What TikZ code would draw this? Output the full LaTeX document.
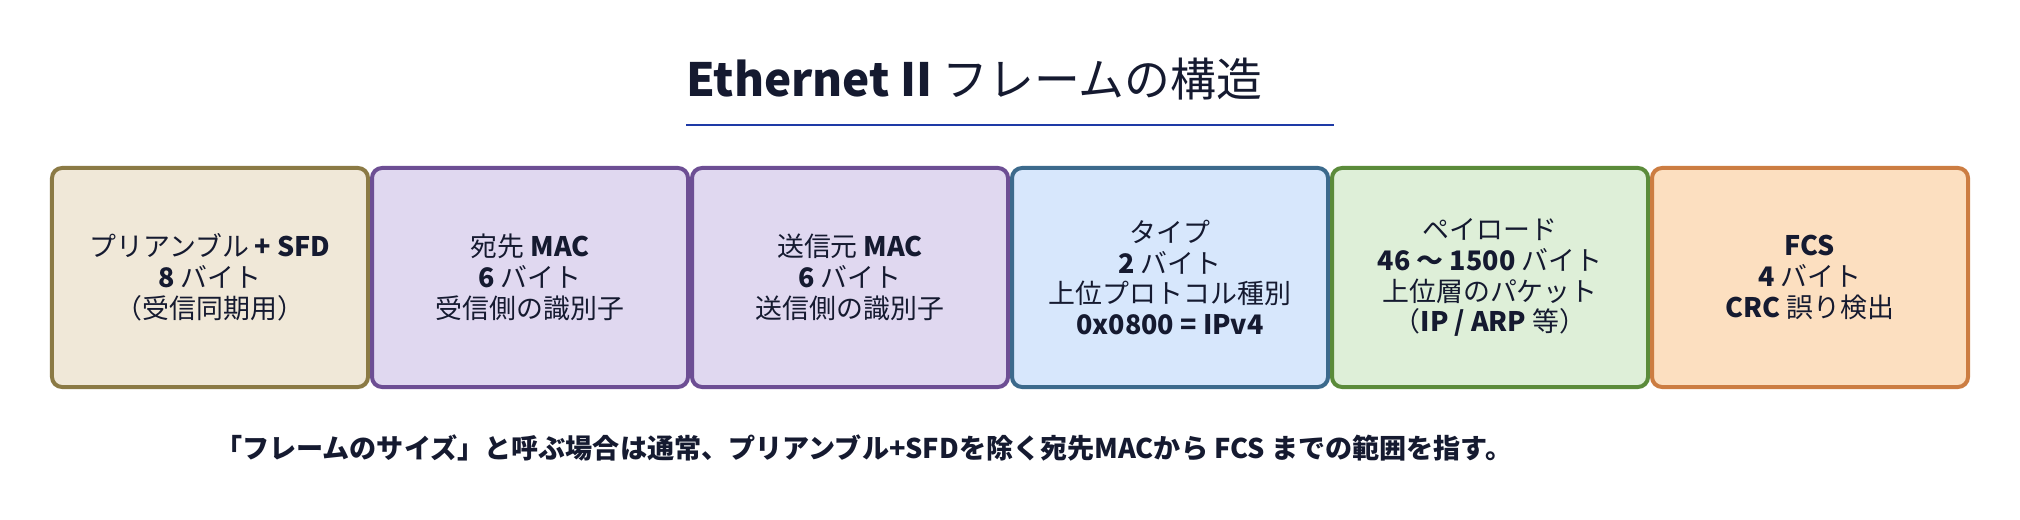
\documentclass[tikz,border=0pt]{standalone}
\usepackage{fontspec}
\setmainfont{Noto Sans CJK JP}
\definecolor{ink}{HTML}{151A30}
\definecolor{uline}{HTML}{1E3AA6}
\definecolor{fA}{HTML}{F0E8D8}\definecolor{sA}{HTML}{8B7A45}
\definecolor{fB}{HTML}{E0D8F0}\definecolor{sB}{HTML}{6D4E94}
\definecolor{fC}{HTML}{D7E7FC}\definecolor{sC}{HTML}{3C6A8C}
\definecolor{fD}{HTML}{DEEFD8}\definecolor{sD}{HTML}{5B8B3A}
\definecolor{fE}{HTML}{FCDFC0}\definecolor{sE}{HTML}{CC7D42}
\newcommand{\bb}[1]{\textbf{#1}}
\tikzset{
  field/.style={draw, line width=4bp, rounded corners=10bp, minimum width=316bp, minimum height=219bp,
    inner sep=0pt, anchor=center, text=ink, align=center, font=\fontsize{27}{31}\selectfont},
}
\begin{document}
\begin{tikzpicture}[x=1bp,y=-1bp]
\useasboundingbox (0,0) rectangle (2020,520);
\node[anchor=base west, text=ink, inner sep=0pt, font=\fontsize{46}{50}\selectfont] (title) at (686,97) {\bb{Ethernet II} フレームの構造};
\coordinate (u1) at (686,125);
\coordinate (u2) at (1334,125);
\draw[uline, line width=2.2bp] (u1) -- (u2);
\node[field, fill=fA, draw=sA] (pre) at (210,277.5) {プリアンブル \bb{+ SFD}\\\bb{8} バイト\\（受信同期用）};
\node[field, fill=fB, draw=sB] (dst) at (530,277.5) {宛先 \bb{MAC}\\\bb{6} バイト\\受信側の識別子};
\node[field, fill=fB, draw=sB] (src) at (850,277.5) {送信元 \bb{MAC}\\\bb{6} バイト\\送信側の識別子};
\node[field, fill=fC, draw=sC] (type) at (1170,277.5) {タイプ\\\bb{2} バイト\\上位プロトコル種別\\\bb{0x0800 = IPv4}};
\node[field, fill=fD, draw=sD] (pay) at (1490,277.5) {ペイロード\\\bb{46 ～ 1500} バイト\\上位層のパケット\\（\bb{IP / ARP} 等）};
\node[field, fill=fE, draw=sE] (fcs) at (1810,277.5) {\bb{FCS}\\\bb{4} バイト\\\bb{CRC} 誤り検出};
\node[anchor=base west, text=ink, inner sep=0pt, font=\fontsize{27.2}{31}\selectfont\bfseries] (note) at (215,458) {「フレームのサイズ」と呼ぶ場合は通常、プリアンブル+SFDを除く宛先MACから FCS までの範囲を指す。};
\end{tikzpicture}
\end{document}
